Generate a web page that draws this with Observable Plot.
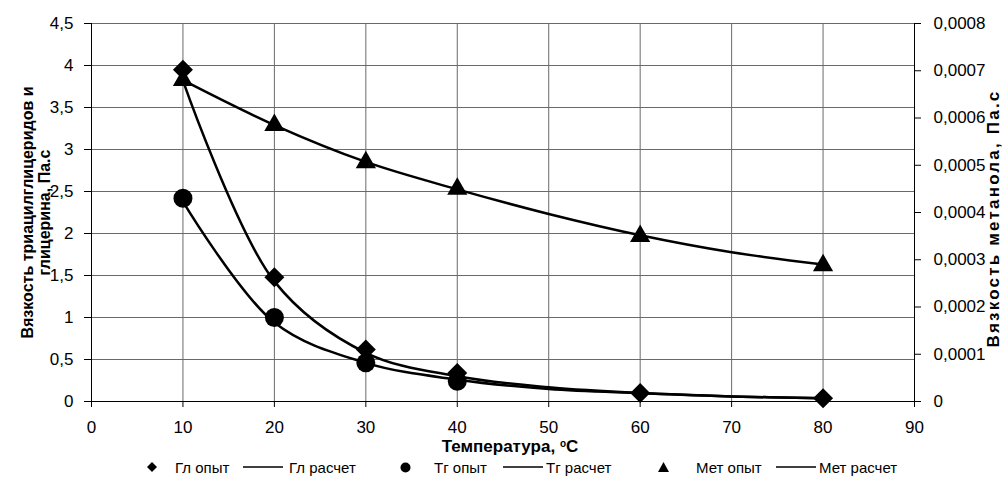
<!DOCTYPE html>
<html><head><meta charset="utf-8">
<script src="https://cdn.jsdelivr.net/npm/d3@7"></script>
<script src="https://cdn.jsdelivr.net/npm/@observablehq/plot@0.6"></script>
<style>
body{margin:0;background:#fff;font-family:"Liberation Sans",Arial,sans-serif;}
#wrap{position:relative;width:1003px;height:487px;overflow:hidden;}
#xtitle{position:absolute;left:0;top:435px;width:1020px;text-align:center;font-weight:bold;font-size:17px;line-height:18px;color:#000;}
#xtitle sup{font-size:10px;vertical-align:5px;}
#legend{position:absolute;left:0;top:452px;width:1003px;height:30px;font-size:15px;color:#000;}
.li{position:absolute;top:0;height:30px;display:flex;align-items:center;white-space:nowrap;}
</style></head><body><div id="wrap"></div>
<script>
// ---- data ----
const xTicks = [0,10,20,30,40,50,60,70,80,90];
const yTicksLeft = [0,0.5,1,1.5,2,2.5,3,3.5,4,4.5];
const yTicksRight = [0,0.0001,0.0002,0.0003,0.0004,0.0005,0.0006,0.0007,0.0008];

const tempExp = [10,20,30,40,60,80];
const glExp = [3.95,1.48,0.62,0.34,0.1,0.04];          // Гл опыт
const tempTg = [10,20,30,40];
const tgExp = [2.42,1.0,0.46,0.24];                     // Тг опыт
const metExp = [0.00068,0.000585,0.000506,0.00045,0.00035,0.000288]; // Мет опыт

const tempCalc = [10,20,30,40,50,60,70,80];
const glCalc = [3.82,1.43,0.58,0.3,0.17,0.1,0.06,0.04];     // Гл расчет
const tgCalc = [2.38,0.94,0.46,0.26,0.15,0.1,0.06,0.04];    // Тг расчет
const metCalc = [0.00068,0.000585,0.000507,0.000449,0.000397,0.000352,0.000316,0.00029]; // Мет расчет

const legendLabels = ["Гл опыт","Гл расчет","Тг опыт","Тг расчет","Мет опыт","Мет расчет"];
const yTitleLeft = "Вязкость триацилглицеридов и\nглицерина, Па.с";
const yTitleRight = "Вязкость метанола, Па.с";

// ---- build ----
const k = 4.5/0.0008; // right axis -> left axis scale
const fmt = d => String(d).replace(".", ",");
const fmtR = v => Math.abs(v) < 1e-9 ? "0" : v.toFixed(4).replace(".", ",");

const rows = (xs, ys, f=1) => xs.map((x,i)=>({x, y: ys[i]*f}));

const plot = Plot.plot({
  width: 1003, height: 434,
  marginLeft: 91, marginRight: 89, marginTop: 23, marginBottom: 33,
  style: {fontFamily: "'Liberation Sans', Arial, sans-serif", fontSize: "17px", color: "#000", background: "#fff", overflow: "visible"},
  x: {domain: [0,90]},
  y: {domain: [0,4.5]},
  marks: [
    Plot.gridX(xTicks.filter(d => d>0 && d<90), {stroke: "#6a6a6a", strokeOpacity: 1}),
    Plot.gridY(yTicksLeft.filter(d => d>0), {stroke: "#6a6a6a", strokeOpacity: 1}),
    Plot.ruleX([0, 90], {stroke: "#000"}),
    Plot.ruleY([0], {stroke: "#000"}),
    Plot.axisX({ticks: xTicks, tickSize: 6, tickPadding: 13, tickFormat: d => String(d), label: null}),
    Plot.axisY({ticks: yTicksLeft, tickSize: 7, tickPadding: 11, tickFormat: fmt, label: null}),
    Plot.axisY({anchor: "right", ticks: yTicksRight.map(v => v*k), tickSize: 6, tickPadding: 13, tickFormat: d => fmtR(d/k), label: null}),
    Plot.line(rows(tempCalc, glCalc), {x: "x", y: "y", curve: "catmull-rom", stroke: "#000", strokeWidth: 2.5}),
    Plot.line(rows(tempCalc, tgCalc), {x: "x", y: "y", curve: "catmull-rom", stroke: "#000", strokeWidth: 2.5}),
    Plot.line(rows(tempCalc, metCalc, k), {x: "x", y: "y", curve: "catmull-rom", stroke: "#000", strokeWidth: 2.5}),
    Plot.dot(rows(tempExp, metExp, k), {x: "x", y: "y", symbol: "triangle", r: 7.5, fill: "#000", stroke: "none"}),
    Plot.dot(rows(tempTg, tgExp), {x: "x", y: "y", symbol: "circle", r: 9.5, fill: "#000", stroke: "none"}),
    Plot.dot(rows(tempExp, glExp), {x: "x", y: "y", symbol: "diamond2", r: 9, fill: "#000", stroke: "none"}),
    Plot.text([yTitleLeft], {frameAnchor: "left", textAnchor: "middle", rotate: -90, dx: -55, lineHeight: 1.06, fontWeight: "bold", fontSize: 16, fill: "#000"}),
    Plot.text([yTitleRight], {frameAnchor: "right", textAnchor: "middle", rotate: -90, dx: 79, dy: 6, fontWeight: "bold", fontSize: 17, fill: "#000"})
  ]
});
d3.select(plot).selectAll("text").filter(function() { return this.textContent === yTitleRight; }).style("letter-spacing", "2.2px");
const wrap = document.getElementById("wrap");
plot.style.position = "absolute"; plot.style.left = "0"; plot.style.top = "0";
wrap.appendChild(plot);

const xt = document.createElement("div");
xt.id = "xtitle";
xt.innerHTML = "Температура, <sup>о</sup>С";
wrap.appendChild(xt);

// legend
const lg = document.createElement("div");
lg.id = "legend";
const sym = {
  diamond: '<svg width="10" height="10"><path d="M5 0L10 5L5 10L0 5Z" fill="#000"/></svg>',
  circle: '<svg width="11" height="11"><circle cx="5.5" cy="5.5" r="5" fill="#000"/></svg>',
  triangle: '<svg width="11" height="10"><path d="M5.5 0L11 10L0 10Z" fill="#000"/></svg>',
  line: '<svg width="40" height="4"><line x1="0" x2="40" y1="2" y2="2" stroke="#000" stroke-width="1.5"/></svg>'
};
const items = [
  {s: sym.diamond, sx: 147, tx: 175},
  {s: sym.line, sx: 243, tx: 289},
  {s: sym.circle, sx: 400, tx: 434},
  {s: sym.line, sx: 503, tx: 546},
  {s: sym.triangle, sx: 658, tx: 696},
  {s: sym.line, sx: 776, tx: 819}
];
items.forEach((it, i) => {
  const a = document.createElement("div"); a.className = "li"; a.style.left = it.sx + "px"; a.innerHTML = it.s; lg.appendChild(a);
  const b = document.createElement("div"); b.className = "li"; b.style.left = it.tx + "px"; b.textContent = legendLabels[i]; lg.appendChild(b);
});
wrap.appendChild(lg);
</script></body></html>
